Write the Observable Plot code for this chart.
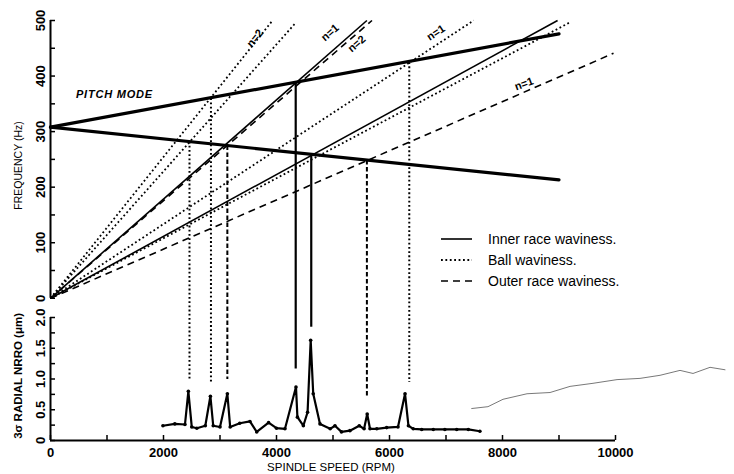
<!DOCTYPE html>
<html><head><meta charset="utf-8">
<script src="https://cdn.jsdelivr.net/npm/d3@7"></script>
<script src="https://cdn.jsdelivr.net/npm/@observablehq/plot@0.6"></script>
<style>
body{margin:0;background:#fff;}
#chart{position:relative;width:734px;height:474px;}
#legend{position:absolute;left:441px;top:228px;font:14px 'Liberation Sans',Arial,sans-serif;color:#000;}
#legend .row{display:flex;align-items:center;height:21px;}
#legend svg{margin-right:15px;}
</style></head><body>
<div id="chart"><div id="legend"></div></div>
<script>
// ---------- data (RPM, Hz) ----------
const pitchUpper = [[0, 308], [9000, 476]];
const pitchLower = [[0, 308], [9000, 213]];
// waviness lines run from the origin to these end points
const innerRaceEnds = [[5600, 500], [8975, 500]];
const ballEnds = [[3930, 500], [4350, 497], [7490, 500], [9200, 497]];
const outerRaceEnds = [[5690, 500], [9965, 441]];

// drop lines from the pitch-mode crossings down to the NRRO peaks
const dropRPM = [2460, 2840, 3130, 4340, 4615, 5600, 6350];
const dropTopHz = [282, 360, 275, 388, 260, 249, 425];
const dropBottomNRRO = [1.00, 0.94, 1.00, 1.17, 1.85, 0.70, 0.95];
const dropType = ["ball", "ball", "outer", "inner", "inner", "outer", "ball"];

// measured 3-sigma radial NRRO (um) vs spindle speed (RPM)
const nrroRPM = [1990, 2200, 2380, 2440, 2500, 2590, 2740, 2830, 2880, 3000, 3130, 3180, 3350, 3530, 3650, 3860, 4000, 4150, 4345, 4370, 4475, 4550, 4605, 4650, 4770, 4950, 5035, 5150, 5300, 5465, 5550, 5605, 5655, 5775, 5950, 6150, 6275, 6335, 6420, 6570, 6775, 6980, 7190, 7395, 7600];
const nrroValue = [0.24, 0.27, 0.26, 0.80, 0.22, 0.20, 0.24, 0.72, 0.24, 0.22, 0.76, 0.22, 0.28, 0.31, 0.14, 0.29, 0.20, 0.19, 0.87, 0.38, 0.24, 0.46, 1.63, 0.76, 0.27, 0.19, 0.24, 0.14, 0.16, 0.24, 0.19, 0.43, 0.19, 0.19, 0.21, 0.22, 0.76, 0.24, 0.19, 0.18, 0.18, 0.18, 0.18, 0.18, 0.15];

// faint scan trace at the lower right
const traceRPM = [7455, 7743, 8009, 8434, 8841, 9195, 9602, 10027, 10434, 10788, 11142, 11372, 11673, 11938];
const traceValue = [0.52, 0.55, 0.67, 0.76, 0.78, 0.88, 0.93, 0.99, 1.01, 1.06, 1.14, 1.09, 1.19, 1.15];

// ticks and labels
const freqTicks = [0, 50, 100, 150, 200, 250, 300, 350, 400, 450, 500];
const freqLabels = [0, 100, 200, 300, 400, 500];
const nrroTicks = [0, 0.25, 0.5, 0.75, 1.0, 1.25, 1.5, 1.75, 2.0];
const nrroLabels = ["0", "0.5", "1.0", "1.5", "2.0"];
const speedTicks = [0, 1000, 2000, 3000, 4000, 5000, 6000, 7000, 8000, 9000, 10000];
const speedLabels = [0, 2000, 4000, 6000, 8000, 10000];

const nLabels = [
  {text: "n=2", rpm: 3620, hz: 468, angle: -51},
  {text: "n=1", rpm: 4947, hz: 478, angle: -41},
  {text: "n=2", rpm: 5420, hz: 458, angle: -41},
  {text: "n=1", rpm: 6823, hz: 478, angle: -33},
  {text: "n=1", rpm: 8381, hz: 386, angle: -20}
];
const legendLabels = ["Inner race waviness.", "Ball waviness.", "Outer race waviness."];
const legendTypes = ["inner", "ball", "outer"];

// ---------- layout: lower panel shares the y scale (offset band) ----------
const NRRO_BASE = -256, NRRO_SCALE = 110.7;
const toY = v => NRRO_BASE + v * NRRO_SCALE;

const lineStyle = {
  inner: {stroke: "#000", strokeWidth: 1.6},
  ball: {stroke: "#000", strokeWidth: 1.8, strokeDasharray: "1.8,2.6"},
  outer: {stroke: "#000", strokeWidth: 1.6, strokeDasharray: "7,5"}
};
const dropStyle = {
  inner: {stroke: "#000", strokeWidth: 2.2},
  ball: {stroke: "#000", strokeWidth: 2, strokeDasharray: "1.8,2.4"},
  outer: {stroke: "#000", strokeWidth: 2, strokeDasharray: "4.5,2.5"}
};

const drops = dropRPM.map((r, i) => ({rpm: r, top: dropTopHz[i], bottom: dropBottomNRRO[i], type: dropType[i]}));
const nrro = nrroRPM.map((r, i) => ({rpm: r, v: nrroValue[i]}));
const trace = traceRPM.map((r, i) => ({rpm: r, v: traceValue[i]}));

const font = "'Liberation Sans', Arial, Helvetica, sans-serif";

const originLines = (ends, type) => Plot.link(ends, {x1: 0, y1: 0, x2: d => d[0], y2: d => d[1], ...lineStyle[type]});

const plot = Plot.plot({
  width: 734, height: 474,
  marginLeft: 50, marginRight: 119, marginTop: 20, marginBottom: 34,
  x: {domain: [0, 10000], axis: null},
  y: {domain: [NRRO_BASE, 500], axis: null},
  style: {fontFamily: font, background: "#fff", color: "#000", overflow: "visible"},
  marks: [
    // axis lines
    Plot.ruleX([0], {y1: 0, y2: 500, strokeWidth: 2}),
    Plot.ruleX([0], {y1: toY(0), y2: toY(2), strokeWidth: 2}),
    Plot.ruleY([toY(0)], {x1: 0, x2: 10000, strokeWidth: 2}),
    // tick marks (inward)
    Plot.tickY(freqTicks, {y: d => d, insetRight: 560, strokeWidth: 1.5}),
    Plot.tickY(nrroTicks, {y: d => toY(d), insetRight: 560, strokeWidth: 1.5}),
    Plot.tickX(speedTicks, {x: d => d, insetTop: 415, strokeWidth: 1.5}),
    // tick labels
    Plot.text(freqLabels, {x: 0, y: d => d, text: d => String(d), rotate: -90, dx: -10, fontSize: 13, fontWeight: "bold", fill: "#000"}),
    Plot.text(nrroLabels, {x: 0, y: d => toY(+d), text: d => d, rotate: -90, dx: -10, fontSize: 13, fontWeight: "bold", fill: "#000"}),
    Plot.text(speedLabels, {x: d => d, y: toY(0), text: d => String(d), dy: 12, fontSize: 13, fontWeight: "bold", fill: "#000"}),
    // axis titles
    Plot.text(["FREQUENCY (Hz)"], {x: 0, y: 239, text: d => d, rotate: -90, dx: -32, fontSize: 10.5, fill: "#000"}),
    Plot.text(["3\u03c3 RADIAL NRRO (\u03bcm)"], {x: 0, y: toY(1.05), text: d => d, rotate: -90, dx: -32, fontSize: 11.5, fontWeight: "bold", fill: "#000"}),
    Plot.text(["SPINDLE SPEED (RPM)"], {x: 4965, y: toY(0), text: d => d, dy: 27, fontSize: 11.5, fill: "#000"}),
    // waviness lines
    originLines(innerRaceEnds, "inner"),
    originLines(ballEnds, "ball"),
    originLines(outerRaceEnds, "outer"),
    // pitch mode
    Plot.line(pitchUpper, {x: d => d[0], y: d => d[1], strokeWidth: 3.2}),
    Plot.line(pitchLower, {x: d => d[0], y: d => d[1], strokeWidth: 3.2}),
    Plot.text(["PITCH MODE"], {x: 450, y: 366, text: d => d, textAnchor: "start", fontSize: 11, fontWeight: "bold", fontStyle: "italic", fill: "#000"}),
    Plot.text(nLabels, {x: "rpm", y: "hz", text: "text", rotate: "angle", fontSize: 11, fontWeight: "bold", fill: "#000"}),
    // drop lines
    ...["inner", "ball", "outer"].map(t =>
      Plot.link(drops.filter(d => d.type === t), {x1: "rpm", x2: "rpm", y1: "top", y2: d => toY(d.bottom), ...dropStyle[t]})),
    // NRRO curve
    Plot.line(trace, {x: "rpm", y: d => toY(d.v), stroke: "#555", strokeWidth: 0.8}),
    Plot.line(nrro, {x: "rpm", y: d => toY(d.v), strokeWidth: 2.2, strokeLinejoin: "round"}),
    Plot.dot(nrro, {x: "rpm", y: d => toY(d.v), r: 1.8, fill: "#000"})
  ]
});

d3.select(plot).selectAll("text").filter(function () { return this.textContent === "PITCH MODE"; })
  .style("letter-spacing", "0.8px");

document.getElementById("chart").prepend(plot);

// legend
const legend = d3.select("#legend");
legendLabels.forEach((label, i) => {
  const row = legend.append("div").attr("class", "row");
  const s = lineStyle[legendTypes[i]];
  const svg = row.append("svg").attr("width", 32).attr("height", 10);
  svg.append("line").attr("x1", 0).attr("x2", 31).attr("y1", 5).attr("y2", 5)
    .attr("stroke", "#000").attr("stroke-width", s.strokeWidth)
    .attr("stroke-dasharray", s.strokeDasharray || null);
  row.append("span").text(label);
});
</script>
</body></html>
